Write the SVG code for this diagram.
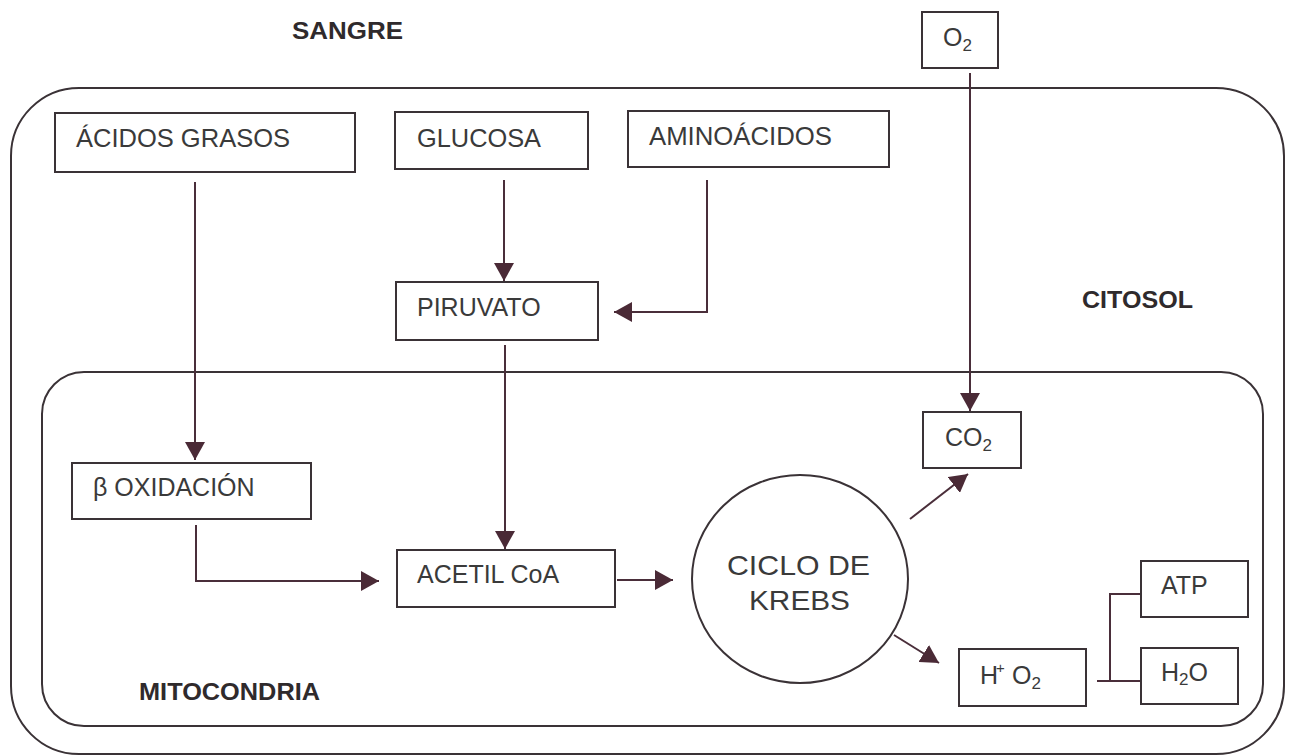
<svg xmlns="http://www.w3.org/2000/svg" width="1291" height="756" viewBox="0 0 1291 756">
<style>
  .region { fill: none; stroke: #3a3236; stroke-width: 2; }
  .box { fill: #ffffff; stroke: #3a3236; stroke-width: 2; }
  .lbl { font-family: "Liberation Sans", Arial, sans-serif; font-size: 25px; fill: #3a3a3a; }
  .big { font-family: "Liberation Sans", Arial, sans-serif; font-size: 28px; fill: #3a3a3a; }
  .title { font-family: "Liberation Sans", Arial, sans-serif; font-size: 23px; font-weight: bold; fill: #2f2a2c; }
  .sub { font-size: 17px; }
  .sup { font-size: 15px; }
  .conn { fill: none; stroke: #4a2e3a; stroke-width: 2; }
</style>
<defs>
  <marker id="arrow" viewBox="0 0 18 20" refX="18" refY="10" markerWidth="18" markerHeight="20" markerUnits="userSpaceOnUse" orient="auto">
    <path d="M0,0 L18,10 L0,20 Z" fill="#4a2a36"/>
  </marker>
</defs>
<rect width="1291" height="756" fill="#ffffff"/>

<g id="regions">
  <rect id="citosol-region" class="region" x="11" y="88" width="1273" height="666" rx="68" ry="68"/>
  <rect id="mitocondria-region" class="region" x="42" y="372" width="1221" height="354" rx="42" ry="42"/>
  <text class="title" x="292" y="39" textLength="111" lengthAdjust="spacingAndGlyphs">SANGRE</text>
  <text class="title" x="1082" y="308" textLength="111" lengthAdjust="spacingAndGlyphs">CITOSOL</text>
  <text class="title" x="139" y="700" textLength="181" lengthAdjust="spacingAndGlyphs">MITOCONDRIA</text>
</g>

<g id="connectors">
  <path class="conn" d="M195,182 V460" marker-end="url(#arrow)"/>
  <path class="conn" d="M504,180 V281" marker-end="url(#arrow)"/>
  <path class="conn" d="M707,180 V312 H614" marker-end="url(#arrow)"/>
  <path class="conn" d="M505,345 V549" marker-end="url(#arrow)"/>
  <path class="conn" d="M196,525 V581 H379" marker-end="url(#arrow)"/>
  <path class="conn" d="M617,580 H673" marker-end="url(#arrow)"/>
  <path class="conn" d="M970,73 V411" marker-end="url(#arrow)"/>
  <path class="conn" d="M910,519 L968,474" marker-end="url(#arrow)"/>
  <path class="conn" d="M894,635 L939,663" marker-end="url(#arrow)"/>
  <path class="conn" d="M1097,681 H1141"/>
  <path class="conn" d="M1110,681 V594 H1141"/>
</g>

<g id="acidos-grasos">
  <rect class="box" x="55" y="113" width="300" height="59"/>
  <text class="lbl" x="76" y="147" textLength="214" lengthAdjust="spacingAndGlyphs">ÁCIDOS GRASOS</text>
</g>
<g id="glucosa">
  <rect class="box" x="395" y="112" width="193" height="57"/>
  <text class="lbl" x="417" y="147" textLength="124" lengthAdjust="spacingAndGlyphs">GLUCOSA</text>
</g>
<g id="aminoacidos">
  <rect class="box" x="628" y="111" width="261" height="56"/>
  <text class="lbl" x="649" y="145" textLength="183" lengthAdjust="spacingAndGlyphs">AMINOÁCIDOS</text>
</g>
<g id="o2-sangre">
  <rect class="box" x="922" y="12" width="76" height="56"/>
  <text class="lbl" x="943" y="46">O<tspan class="sub" dy="5">2</tspan></text>
</g>
<g id="piruvato">
  <rect class="box" x="396" y="282" width="202" height="58"/>
  <text class="lbl" x="417" y="316">PIRUVATO</text>
</g>
<g id="beta-oxidacion">
  <rect class="box" x="72" y="463" width="239" height="56"/>
  <text class="lbl" x="93" y="496">β OXIDACIÓN</text>
</g>
<g id="acetil-coa">
  <rect class="box" x="397" y="550" width="218" height="57"/>
  <text class="lbl" x="417" y="583">ACETIL CoA</text>
</g>
<g id="ciclo-krebs">
  <ellipse class="box" cx="800" cy="579" rx="108" ry="104"/>
  <text class="big" x="727" y="575" textLength="143" lengthAdjust="spacingAndGlyphs">CICLO DE</text>
  <text class="big" x="749" y="610" textLength="101" lengthAdjust="spacingAndGlyphs">KREBS</text>
</g>
<g id="co2">
  <rect class="box" x="923" y="412" width="98" height="56"/>
  <text class="lbl" x="945" y="446">CO<tspan class="sub" dy="5">2</tspan></text>
</g>
<g id="h-o2">
  <rect class="box" x="959" y="649" width="127" height="57"/>
  <text class="lbl" x="980" y="684">H<tspan class="sup" x="996" dy="-11">+</tspan><tspan x="1012" dy="11">O</tspan><tspan class="sub" dy="5">2</tspan></text>
</g>
<g id="atp">
  <rect class="box" x="1141" y="561" width="107" height="56"/>
  <text class="lbl" x="1161" y="594">ATP</text>
</g>
<g id="h2o">
  <rect class="box" x="1141" y="648" width="97" height="56"/>
  <text class="lbl" x="1161" y="681">H<tspan class="sub" dy="4">2</tspan><tspan dy="-4">O</tspan></text>
</g>
</svg>
